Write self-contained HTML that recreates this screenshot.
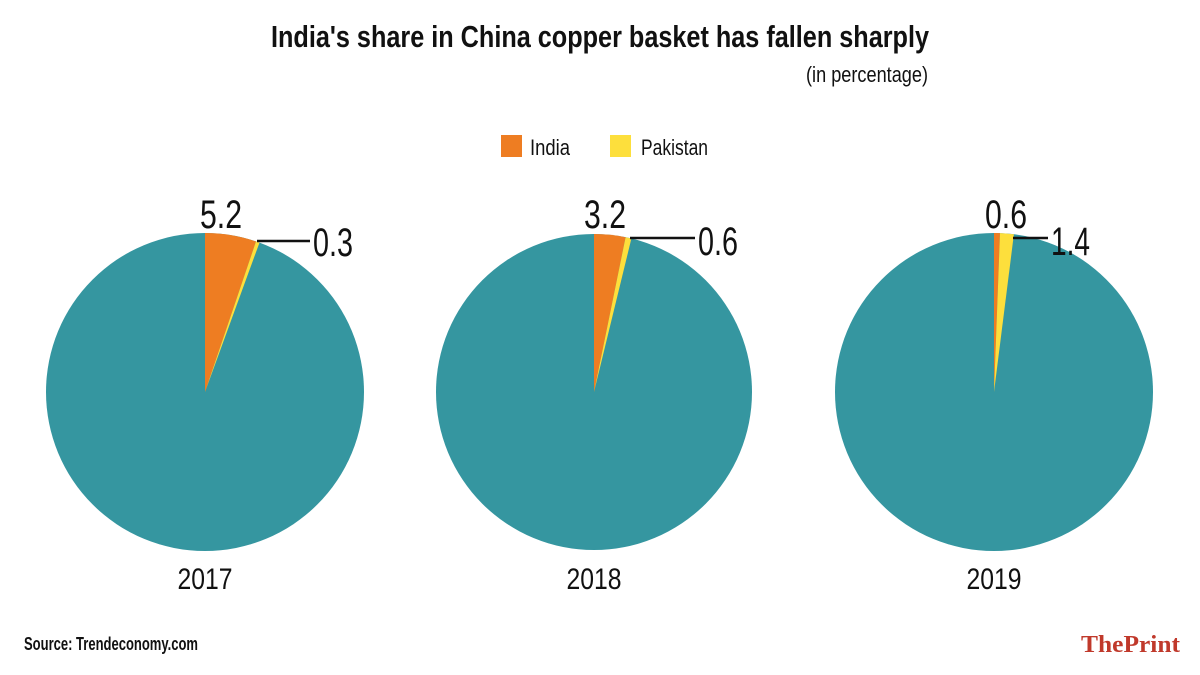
<!DOCTYPE html>
<html><head><meta charset="utf-8"><style>body{margin:0;background:#fff}svg{display:block}text{font-family:"Liberation Sans",sans-serif;fill:#111}</style></head>
<body>
<svg width="1200" height="675" viewBox="0 0 1200 675">
<text x="600" y="47" text-anchor="middle" font-size="31" font-weight="bold" textLength="658" lengthAdjust="spacingAndGlyphs">India's share in China copper basket has fallen sharply</text>
<text x="928" y="82" text-anchor="end" font-size="22" textLength="122" lengthAdjust="spacingAndGlyphs">(in percentage)</text>
<rect x="501" y="135" width="21" height="22" fill="#ee7d22"/>
<text x="530" y="155" font-size="22" textLength="40" lengthAdjust="spacingAndGlyphs">India</text>
<rect x="610" y="135" width="21" height="22" fill="#fddf3c"/>
<text x="641" y="155" font-size="22" textLength="67" lengthAdjust="spacingAndGlyphs">Pakistan</text>

<circle cx="205" cy="392" r="159" fill="#3596a0"/>
<path d="M205 392 L205 233 A159 159 0 0 1 256 241.4 Z" fill="#ee7d22"/>
<path d="M205 392 L256 241.4 A159 159 0 0 1 259.5 242.6 Z" fill="#fddf3c"/>
<line x1="257" y1="241" x2="310" y2="241" stroke="#111" stroke-width="2.5"/>
<text x="221" y="228" text-anchor="middle" font-size="40" textLength="42" lengthAdjust="spacingAndGlyphs">5.2</text>
<text x="313" y="256" font-size="40" textLength="40" lengthAdjust="spacingAndGlyphs">0.3</text>
<text x="205" y="589" text-anchor="middle" font-size="30" textLength="55" lengthAdjust="spacingAndGlyphs">2017</text>

<circle cx="594" cy="392" r="158" fill="#3596a0"/>
<path d="M594 392 L594 234 A158 158 0 0 1 625.6 237.2 Z" fill="#ee7d22"/>
<path d="M594 392 L625.6 237.2 A158 158 0 0 1 631.4 238.5 Z" fill="#fddf3c"/>
<line x1="630" y1="238" x2="695" y2="238" stroke="#111" stroke-width="2.5"/>
<text x="605" y="228" text-anchor="middle" font-size="40" textLength="42" lengthAdjust="spacingAndGlyphs">3.2</text>
<text x="698" y="255" font-size="40" textLength="40" lengthAdjust="spacingAndGlyphs">0.6</text>
<text x="594" y="589" text-anchor="middle" font-size="30" textLength="55" lengthAdjust="spacingAndGlyphs">2018</text>

<circle cx="994" cy="392" r="159" fill="#3596a0"/>
<path d="M994 392 L994 233 A159 159 0 0 1 1000 233.1 Z" fill="#ee7d22"/>
<path d="M994 392 L1000 233.1 A159 159 0 0 1 1013.9 234.3 Z" fill="#fddf3c"/>
<line x1="1013" y1="238" x2="1048" y2="238" stroke="#111" stroke-width="2.5"/>
<text x="1006" y="228" text-anchor="middle" font-size="40" textLength="42" lengthAdjust="spacingAndGlyphs">0.6</text>
<text x="1051" y="255" font-size="40" textLength="39" lengthAdjust="spacingAndGlyphs">1.4</text>
<text x="994" y="589" text-anchor="middle" font-size="30" textLength="55" lengthAdjust="spacingAndGlyphs">2019</text>

<text x="24" y="650" font-size="18" font-weight="bold" textLength="174" lengthAdjust="spacingAndGlyphs">Source: Trendeconomy.com</text>
<text x="1180" y="652" text-anchor="end" font-size="24" font-weight="bold" style="font-family:'Liberation Serif',serif;fill:#c0392b" textLength="99" lengthAdjust="spacingAndGlyphs">ThePrint</text>
</svg>
</body></html>
